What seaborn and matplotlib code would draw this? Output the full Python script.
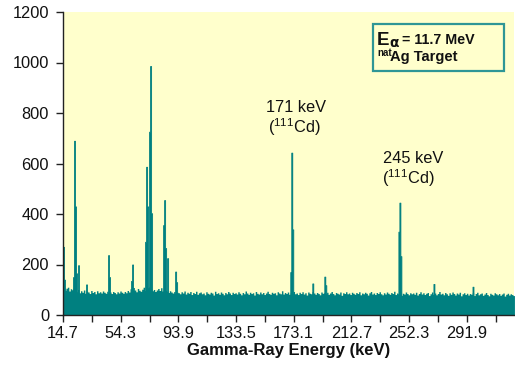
import numpy as np
import matplotlib
matplotlib.use("Agg")
import matplotlib.pyplot as plt
import seaborn as sns
from matplotlib.patches import Rectangle

# ---------------- data ----------------
bg_start_kev = 14.7
# background counts in 1-keV channels starting at 14.7 keV
bg_counts = [
    112, 98, 106, 110, 95, 104, 100, 108, 97, 92, 101, 88, 96, 90, 99, 86, 94, 91, 85, 97,
    89, 93, 84, 96, 88, 92, 87, 95, 90, 86, 94, 88, 91, 85, 93, 89, 84, 92, 87, 95,
    90, 86, 93, 88, 97, 91, 104, 96, 109, 99, 92, 105, 98, 94, 102, 110, 97, 115, 108, 112,
    104, 96, 101, 93, 99, 105, 97, 108, 95, 102, 98, 94, 89, 96, 91, 87, 93, 85, 90, 88,
    84, 92, 87, 95, 83, 90, 86, 93, 81, 89, 85, 94, 82, 88, 91, 84, 87, 80, 92, 86,
    83, 90, 87, 79, 94, 85, 88, 82, 91, 86, 80, 89, 84, 93, 87, 81, 90, 85, 88, 83,
    92, 86, 80, 89, 84, 95, 87, 82, 90, 85, 88, 79, 93, 86, 83, 91, 84, 89, 81, 87,
    94, 85, 82, 90, 86, 88, 80, 92, 87, 84, 96, 83, 89, 85, 91, 82, 88, 86, 93, 84,
    87, 81, 90, 85, 92, 83, 88, 79, 91, 86, 84, 93, 87, 82, 89, 85, 80, 91, 86, 88,
    84, 90, 82, 87, 93, 85, 80, 89, 86, 83, 91, 78, 88, 85, 92, 84, 87, 81, 90, 86,
    82, 89, 85, 92, 80, 87, 84, 90, 86, 79, 88, 93, 83, 87, 81, 89, 85, 92, 84, 80,
    88, 83, 91, 86, 82, 89, 85, 94, 81, 87, 84, 90, 78, 86, 83, 91, 85, 80, 88, 84,
    87, 82, 90, 79, 85, 92, 83, 88, 81, 86, 89, 77, 84, 91, 82, 87, 80, 85, 93, 83,
    86, 80, 89, 84, 78, 88, 82, 91, 85, 79, 87, 83, 90, 76, 84, 88, 81, 86, 79, 85,
    82, 88, 77, 85, 90, 80, 84, 87, 78, 83, 89, 81, 76, 86, 82, 79, 88, 84, 80, 85,
    78, 83, 87, 75, 82, 86, 79, 84, 81, 77,
]

# peak channels (keV, counts)
peak_energy = [14.9, 15.7, 21.9, 22.6, 23.3, 24.0, 25.4, 30.9, 46.0, 46.7,
               61.8, 62.5, 71.4, 72.1, 72.8, 74.2, 74.9, 75.5, 83.8, 84.5,
               85.2, 86.5, 92.0, 92.7, 171.1, 171.8, 172.5, 186.2, 194.5, 195.2,
               245.3, 246.0, 246.7, 269.4, 296.2]
peak_counts = [270, 140, 150, 690, 430, 165, 197, 121, 237, 150,
               135, 200, 290, 587, 430, 726, 986, 403, 356, 455,
               265, 225, 172, 130, 170, 643, 339, 125, 152, 118,
               330, 445, 233, 123, 112]

x_tick_labels = ["14.7", "54.3", "93.9", "133.5", "173.1", "212.7", "252.3", "291.9"]
y_ticks = [0, 200, 400, 600, 800, 1000, 1200]

peak_labels = ["171 keV", "245 keV"]
# --------------------------------------

TEAL = "#008080"
W, H = 515, 368

sns.set_theme(style="white")
plt.rcParams['font.family'] = ['Liberation Sans', 'DejaVu Sans']
plt.rcParams['mathtext.fontset'] = 'custom'
plt.rcParams['mathtext.rm'] = 'Liberation Sans'
plt.rcParams['mathtext.it'] = 'Liberation Sans:italic'
plt.rcParams['mathtext.bf'] = 'Liberation Sans:bold'
plt.rcParams['mathtext.default'] = 'regular'

fig = plt.figure(figsize=(W / 100, H / 100), dpi=100)
fig.patch.set_facecolor("white")
ax = fig.add_axes([63 / W, 1 - 315 / H, (514 - 63) / W, (315 - 12) / H])
ax.set_facecolor("#FFFFCC")

# background spectrum
bg_edges = [bg_start_kev + i for i in range(len(bg_counts) + 1)]
bg_energy = [bg_start_kev + i + 0.5 for i in range(len(bg_counts))]
sns.histplot(x=bg_energy, weights=bg_counts, bins=bg_edges, element="step",
             fill=True, color=TEAL, alpha=1, linewidth=0, ax=ax)

# peak channels (pixel-wide channels)
ch_w = 0.6875
peak_edges = [bg_start_kev + ch_w * i for i in range(453)]
sns.histplot(x=peak_energy, weights=peak_counts, bins=peak_edges, element="step",
             fill=True, color=TEAL, alpha=1, linewidth=0.6, ax=ax)

xmin, xmax = 14.7, 324.4
ax.set_xlim(xmin, xmax)
ax.set_ylim(0, 1200)

major = [14.7 + 39.6 * i for i in range(len(x_tick_labels))]
minor = [14.7 + 19.8 + 39.6 * i for i in range(len(x_tick_labels))]
ax.set_xticks(major)
ax.set_xticklabels(x_tick_labels)
ax.set_xticks(minor, minor=True)
ax.set_yticks(y_ticks)
ax.set_yticklabels([str(v) for v in y_ticks])

ax.tick_params(axis="both", which="both", direction="out", length=5, width=1,
               color="#222222", labelsize=11.8, labelcolor="#111111")
ax.tick_params(axis="x", which="both", bottom=True, pad=3)
ax.tick_params(axis="y", left=True, pad=5)

for s in ["top", "right"]:
    ax.spines[s].set_visible(False)
for s in ["left", "bottom"]:
    ax.spines[s].set_color("#222222")
    ax.spines[s].set_linewidth(1)

ax.set_ylabel("")
ax.set_xlabel("Gamma-Ray Energy (keV)", fontsize=12, fontweight="bold",
              labelpad=1, color="#111111")

# peak annotations
ax.text(174.5, 805, peak_labels[0], ha="center", va="baseline", fontsize=11.8, color="#111111")
ax.text(173.5, 720, r"($^{111}$Cd)", ha="center", va="baseline", fontsize=11.8, color="#111111")
ax.text(254.9, 601, peak_labels[1], ha="center", va="baseline", fontsize=11.8, color="#111111")
ax.text(251.5, 519, r"($^{111}$Cd)", ha="center", va="baseline", fontsize=11.8, color="#111111")

# info box
def fx(px):
    return px / W

def fy(py):
    return 1 - py / H

box = Rectangle((fx(373), fy(70.7)), fx(504.3) - fx(373), fy(24) - fy(70.7),
                transform=fig.transFigure, facecolor="#FFFFCC", edgecolor="#2E9696",
                linewidth=1.6, zorder=5)
fig.patches.append(box)
fig.text(fx(376.5), fy(45), "E", fontsize=13.5, fontweight="bold", ha="left",
         va="baseline", zorder=6, color="#111111")
fig.text(fx(389.5), fy(47), "\u03b1", fontsize=10, fontweight="bold", ha="left",
         va="baseline", zorder=6, color="#111111", family=["DejaVu Sans"])
fig.text(fx(402.5), fy(43.5), "= 11.7 MeV", fontsize=10.3, fontweight="bold", ha="left",
         va="baseline", zorder=6, color="#111111")
fig.text(fx(377), fy(56.5), "nat", fontsize=7, fontweight="bold", ha="left",
         va="baseline", zorder=6, color="#111111")
fig.text(fx(390.5), fy(60.7), "Ag Target", fontsize=10.6, fontweight="bold", ha="left",
         va="baseline", zorder=6, color="#111111")

fig.savefig("out.png", dpi=100)
